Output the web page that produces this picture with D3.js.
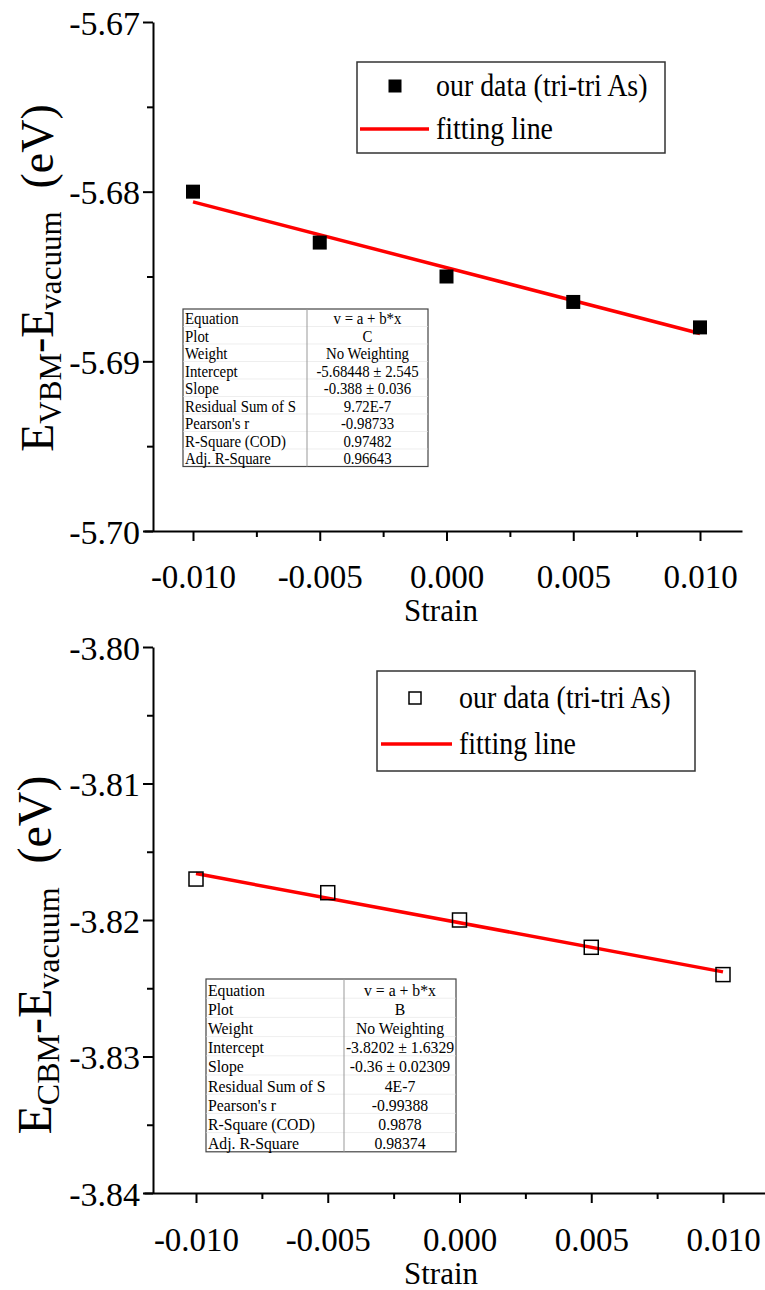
<!DOCTYPE html>
<head>
<meta charset="utf-8">
<script src="https://d3js.org/d3.v7.min.js"></script>
<style>
  body { margin: 0; background: #fff; }
  text { font-family: "Liberation Serif", "Times New Roman", serif; white-space: pre; }
</style>
</head>
<body>
<div id="chart"></div>
<script>
  // data
  var strain = [-0.010, -0.005, 0.000, 0.005, 0.010];
  var vbm = [-5.6800, -5.6830, -5.6850, -5.6865, -5.6880];
  var cbm = [-3.8170, -3.8180, -3.8200, -3.8220, -3.8240];
  var fitVbm = [-5.68448, -0.388];   // intercept, slope
  var fitCbm = [-3.8202, -0.36];
  var xTicks = [-0.010, -0.005, 0.000, 0.005, 0.010];
  var xMinor = [-0.0075, -0.0025, 0.0025, 0.0075];
  var yTicksVbm = [-5.67, -5.68, -5.69, -5.70];
  var yMinorVbm = [-5.675, -5.685, -5.695];
  var yTicksCbm = [-3.80, -3.81, -3.82, -3.83, -3.84];
  var yMinorCbm = [-3.805, -3.815, -3.825, -3.835];
  var tableNames = ["Equation", "Plot", "Weight", "Intercept", "Slope",
                    "Residual Sum of S", "Pearson's r", "R-Square (COD)", "Adj. R-Square"];
  var tableVbm = ["v = a + b*x", "C", "No Weighting", "-5.68448 \u00b1 2.545", "-0.388 \u00b1 0.036",
                  "9.72E-7", "-0.98733", "0.97482", "0.96643"];
  var tableCbm = ["v = a + b*x", "B", "No Weighting", "-3.8202 \u00b1 1.6329", "-0.36 \u00b1 0.02309",
                  "4E-7", "-0.99388", "0.9878", "0.98374"];
  var legendNames = ["our data (tri-tri As)", "fitting line"];

  var width = 765, height = 1290;
  var svg = d3.select("#chart").append("svg")
      .attr("width", width)
      .attr("height", height);

  var panels = [
    { ys: vbm, fit: fitVbm, yTicks: yTicksVbm, yMinor: yMinorVbm, table: tableVbm,
      filled: true, sub: "VBM",
      x0: 193, x1: 700, axL: 144, axR: 742, yAxisX: 153, yTop: 22, yBot: 531,
      titleX: 53, titleY: 278, titleSize: 46, subSize: 31,
      stripY: 621, xLabY: 588,
      leg: { x: 357, y: 62, w: 308, h: 91, sym: 395, txt: 436, r1: 86, r2: 129, lx0: 360, lx1: 429, s: 13 },
      tab: { x: 183, y: 309, w: 245, rh: 17.5, div: 307, fs: 16.5 } },
    { ys: cbm, fit: fitCbm, yTicks: yTicksCbm, yMinor: yMinorCbm, table: tableCbm,
      filled: false, sub: "CBM",
      x0: 196, x1: 723, axL: 144, axR: 765, yAxisX: 153, yTop: 647, yBot: 1193,
      titleX: 51, titleY: 955, titleSize: 48, subSize: 32,
      stripY: 1284, xLabY: 1251,
      leg: { x: 377, y: 671, w: 318, h: 100, sym: 415, txt: 459, r1: 698, r2: 744, lx0: 381, lx1: 452, s: 12 },
      tab: { x: 206, y: 979, w: 250, rh: 19.2, div: 344, fs: 17.5 } }
  ];

  panels.forEach(function(p) {
    var x0 = d3.scaleLinear().domain([strain[0], strain[strain.length - 1]]).range([p.x0, p.x1]);
    var x = d3.scaleLinear().domain([x0.invert(p.axL), x0.invert(p.axR)]).range([p.axL, p.axR]);
    var y = d3.scaleLinear().domain([p.yTicks[0], p.yTicks[p.yTicks.length - 1]]).range([p.yTop, p.yBot]);
    var g = svg.append("g");

    // x axis
    var xg = g.append("g").attr("transform", "translate(0," + p.yBot + ")");
    xg.call(d3.axisBottom(x).tickValues(xTicks).tickSize(10).tickSizeOuter(0)
        .tickFormat(function(d) { return d.toFixed(3); }));
    xg.append("g").call(d3.axisBottom(x).tickValues(xMinor).tickSize(6).tickFormat(""))
      .select(".domain").remove();
    xg.selectAll("text").attr("dy", null).attr("y", p.xLabY - p.yBot)
      .style("font-size", "33px").style("fill", "#000");

    // y axis
    var yg = g.append("g").attr("transform", "translate(" + p.yAxisX + ",0)");
    yg.call(d3.axisLeft(y).tickValues(p.yTicks).tickSize(10).tickSizeOuter(0)
        .tickFormat(function(d) { return d.toFixed(2); }));
    yg.append("g").call(d3.axisLeft(y).tickValues(p.yMinor).tickSize(6).tickFormat(""))
      .select(".domain").remove();
    yg.selectAll("text").attr("x", -13).attr("dy", "0.36em")
      .style("font-size", "34px").style("fill", "#000");

    g.selectAll(".domain, .tick line").attr("stroke", "#000").attr("stroke-width", 2);

    // axis titles
    g.append("text").attr("x", 441).attr("y", p.stripY)
      .attr("text-anchor", "middle").style("font-size", "31px").text("Strain");

    var t = g.append("text")
      .attr("transform", "translate(" + p.titleX + "," + p.titleY + ") rotate(-90)")
      .attr("text-anchor", "middle").style("font-size", p.titleSize + "px");
    t.append("tspan").text("E");
    t.append("tspan").attr("dy", 8).style("font-size", p.subSize + "px").text(p.sub);
    t.append("tspan").attr("dy", -8).text("-E");
    t.append("tspan").attr("dy", 8).style("font-size", p.subSize + "px").text("vacuum");
    t.append("tspan").attr("dy", -8).text("  (eV)");

    // fit line
    var line = d3.line()
      .x(function(d) { return x(d); })
      .y(function(d) { return y(p.fit[0] + p.fit[1] * d); });
    g.append("path").datum([strain[0], strain[strain.length - 1]])
      .attr("d", line).attr("fill", "none").attr("stroke", "#ff0000").attr("stroke-width", 3.5);

    // points
    var s = 14;
    g.selectAll("rect.pt").data(p.ys).enter().append("rect")
      .attr("class", "pt")
      .attr("x", function(d, i) { return x(strain[i]) - s / 2; })
      .attr("y", function(d) { return y(d) - s / 2; })
      .attr("width", s).attr("height", s)
      .attr("fill", p.filled ? "#000" : "none")
      .attr("stroke", p.filled ? "none" : "#000")
      .attr("stroke-width", 1.5);

    // legend
    var L = p.leg;
    g.append("rect").attr("x", L.x).attr("y", L.y).attr("width", L.w).attr("height", L.h)
      .attr("fill", "#fff").attr("stroke", "#333").attr("stroke-width", 1.5);
    g.append("rect").attr("x", L.sym - L.s / 2).attr("y", L.r1 - L.s / 2)
      .attr("width", L.s).attr("height", L.s)
      .attr("fill", p.filled ? "#000" : "none")
      .attr("stroke", p.filled ? "none" : "#000").attr("stroke-width", 1.5);
    g.append("line").attr("x1", L.lx0).attr("x2", L.lx1).attr("y1", L.r2).attr("y2", L.r2)
      .attr("stroke", "#ff0000").attr("stroke-width", 3.5);
    g.selectAll("text.leg").data(legendNames).enter().append("text")
      .attr("class", "leg")
      .attr("transform", function(d, i) {
        return "translate(" + L.txt + "," + ((i === 0 ? L.r1 : L.r2) + 10) + ") scale(0.9,1)";
      })
      .style("font-size", "31px").text(function(d) { return d; });

    // stats table (condensed text)
    var T = p.tab, th = T.rh * tableNames.length, sx = 0.9;
    var tg = g.append("g");
    tg.append("rect").attr("x", T.x).attr("y", T.y).attr("width", T.w).attr("height", th)
      .attr("fill", "#fff").attr("stroke", "#444").attr("stroke-width", 1.2);
    tg.selectAll("line.row").data(tableNames.slice(1)).enter().append("line")
      .attr("class", "row")
      .attr("x1", T.x).attr("x2", T.x + T.w)
      .attr("y1", function(d, i) { return T.y + T.rh * (i + 1); })
      .attr("y2", function(d, i) { return T.y + T.rh * (i + 1); })
      .attr("stroke", "#e2e2e2").attr("stroke-width", 0.6);
    tg.append("line").attr("x1", T.div).attr("x2", T.div).attr("y1", T.y).attr("y2", T.y + th)
      .attr("stroke", "#999").attr("stroke-width", 1);
    tg.selectAll("text.nm").data(tableNames).enter().append("text")
      .attr("class", "nm")
      .attr("transform", function(d, i) {
        return "translate(" + (T.x + 2) + "," + (T.y + T.rh * (i + 0.86)) + ") scale(" + sx + ",1)";
      })
      .style("font-size", T.fs + "px").text(function(d) { return d; });
    tg.selectAll("text.val").data(p.table).enter().append("text")
      .attr("class", "val")
      .attr("transform", function(d, i) {
        return "translate(" + ((T.div + T.x + T.w) / 2) + "," + (T.y + T.rh * (i + 0.86)) + ") scale(" + sx + ",1)";
      })
      .attr("text-anchor", "middle")
      .style("font-size", T.fs + "px").text(function(d) { return d; });
  });
</script>
</body>
</html>
